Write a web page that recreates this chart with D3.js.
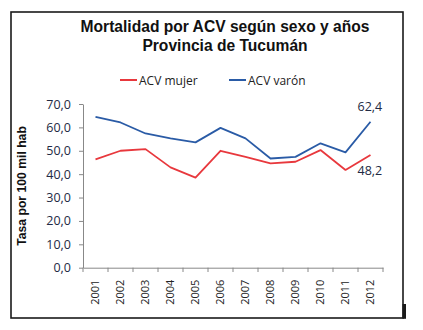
<!DOCTYPE html>
<html><head><meta charset="utf-8">
<script src="https://cdn.jsdelivr.net/npm/d3@7"></script>
<style>body{margin:0;background:#fff}svg{display:block}</style>
</head><body>
<svg id="c" width="423" height="330"></svg>
<script>
const years = ["2001","2002","2003","2004","2005","2006","2007","2008","2009","2010","2011","2012"];
const mujer = [46.3,50.0,50.7,42.9,38.5,50.0,47.4,44.6,45.3,50.3,41.8,48.2];
const varon = [64.5,62.1,57.4,55.3,53.6,59.8,55.3,46.7,47.4,53.2,49.3,62.4];
const yTicks = [0,10,20,30,40,50,60,70];
const seriesNames = ["ACV mujer","ACV varón"];
const colors = ["#e8383d","#2a5ba6"];

const svg = d3.select("#c");
const fmt = v => d3.format(".1f")(v).replace(".", ",");

// frame
svg.append("rect").attr("x",11).attr("y",12).attr("width",392).attr("height",306)
  .attr("fill","#fff").attr("stroke","#1a1a1a").attr("stroke-width",1.6);
svg.append("rect").attr("x",402.5).attr("y",304).attr("width",3.5).attr("height",14.8).attr("fill","#1a1a1a");

// title
const title = svg.append("text").attr("text-anchor","middle")
  .attr("font-family","Liberation Sans, Arial, sans-serif").attr("font-weight","bold")
  .attr("font-size",15.6).attr("fill","#111");
title.append("tspan").attr("x",225).attr("y",32).text("Mortalidad por ACV según sexo y años");
title.append("tspan").attr("x",225).attr("y",51).text("Provincia de Tucumán");

// scales
const x = d3.scaleBand().domain(years).range([83,383]);
const y = d3.scaleLinear().domain([0,70]).range([267.7,104]);

// legend
const leg = [{x:120,tx:139},{x:229,tx:248}];
seriesNames.forEach((n,i)=>{
  svg.append("line").attr("x1",leg[i].x).attr("x2",leg[i].x+17).attr("y1",80).attr("y2",80)
    .attr("stroke",colors[i]).attr("stroke-width",2);
  svg.append("text").attr("x",leg[i].tx).attr("y",84.5).attr("font-family","Open Sans, sans-serif")
    .attr("font-size",12).attr("fill","#222").text(n);
});

// y axis
const ya = svg.append("g").attr("transform","translate(83,0)")
  .call(d3.axisLeft(y).tickValues(yTicks).tickFormat(fmt).tickSize(4).tickSizeOuter(0));
ya.select(".domain").attr("stroke","#888");
ya.selectAll(".tick line").attr("stroke","#888");
ya.selectAll(".tick text").attr("font-family","Open Sans, sans-serif").attr("font-size",12.5)
  .attr("fill","#222a44").attr("x",-12);

// x axis
const xa = svg.append("g").attr("transform","translate(0,267.7)")
  .call(d3.axisBottom(x).tickSize(0).tickSizeOuter(0));
xa.select(".domain").attr("stroke","#888");
xa.selectAll(".tick text").attr("font-family","Open Sans, sans-serif").attr("font-size",11)
  .attr("fill","#222").attr("transform","rotate(-90)").attr("text-anchor","end")
  .attr("x",-12).attr("y",0).attr("dy","0.35em");
// boundary ticks
const bounds = years.map(d=>x(d)).concat([x.range()[1]]);
svg.append("g").selectAll("line").data(bounds).join("line")
  .attr("x1",d=>d).attr("x2",d=>d).attr("y1",267.7).attr("y2",272).attr("stroke","#888");

// y label
svg.append("text").attr("transform","translate(26,186) rotate(-90)").attr("text-anchor","middle")
  .attr("font-family","Liberation Sans, Arial, sans-serif").attr("font-weight","bold")
  .attr("font-size",12.2).attr("fill","#111").text("Tasa por 100 mil hab");

// lines
const line = d3.line().x((d,i)=>x(years[i])+x.bandwidth()/2).y(d=>y(d));
[mujer,varon].forEach((s,i)=>{
  svg.append("path").datum(s).attr("d",line).attr("fill","none")
    .attr("stroke",colors[i]).attr("stroke-width",1.8).attr("stroke-linejoin","round");
});

// data labels
const last = years.length-1;
const lx = x(years[last])+x.bandwidth()/2;
svg.append("text").attr("x",lx-13).attr("y",y(varon[last])-11).attr("font-family","Open Sans, sans-serif")
  .attr("font-size",12.5).attr("fill","#222a44").text(fmt(varon[last]));
svg.append("text").attr("x",lx-13).attr("y",y(mujer[last])+20).attr("font-family","Open Sans, sans-serif")
  .attr("font-size",12.5).attr("fill","#222a44").text(fmt(mujer[last]));
</script>
</body></html>
